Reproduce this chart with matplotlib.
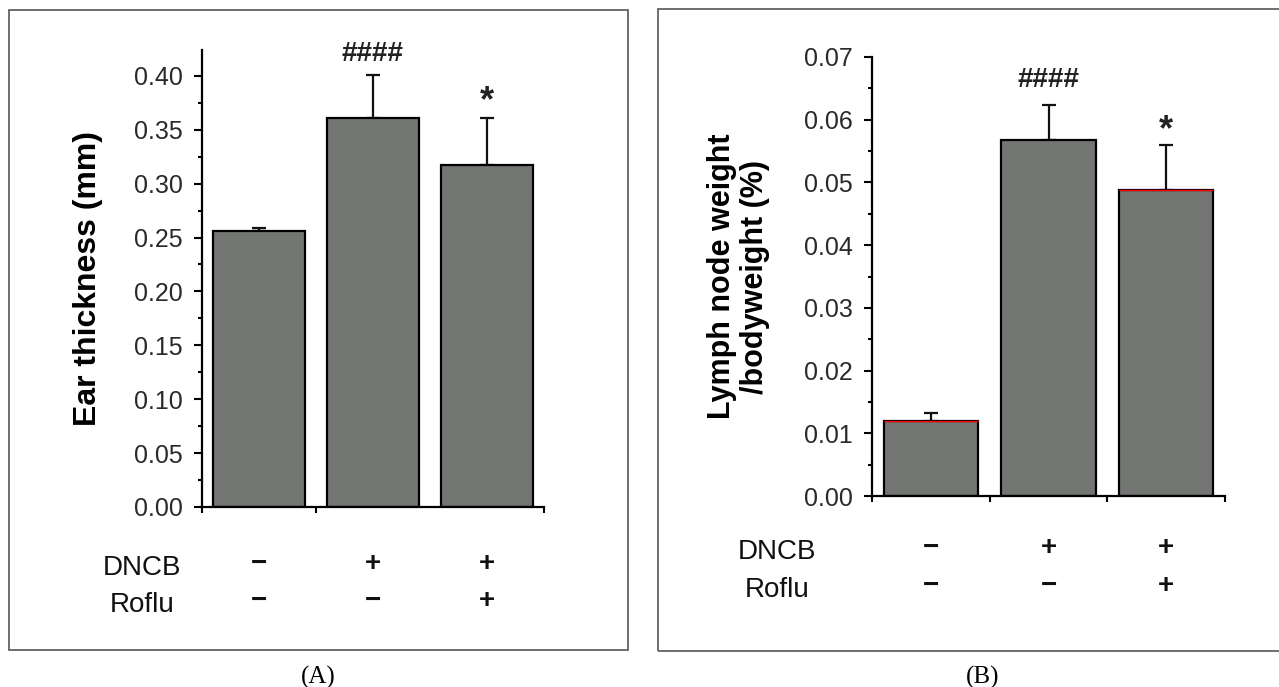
import numpy as np
import matplotlib
matplotlib.use('Agg')
import matplotlib.pyplot as plt
from matplotlib.patches import Rectangle
from matplotlib.ticker import MultipleLocator, FormatStrFormatter
from matplotlib.transforms import blended_transform_factory

plt.rcParams['font.family'] = ['Liberation Sans', 'DejaVu Sans']

# data
groups = [0, 1, 2]
ear_mean = [0.256, 0.361, 0.317]
ear_err = [0.003, 0.040, 0.044]
lymph_mean = [0.0119, 0.0567, 0.0488]
lymph_err = [0.0013, 0.0057, 0.0072]
dncb_signs = ['\u2212', '+', '+']
roflu_signs = ['\u2212', '\u2212', '+']
marks = ['', '####', '*']

W, H = 1279, 687
fig = plt.figure(figsize=(W / 100, H / 100), dpi=100)


def fx(px):
    return px / W


def fy(py):
    return 1 - py / H


# panel frames
fig.add_artist(Rectangle((fx(9), fy(650)), fx(619), (650 - 10) / H,
                         transform=fig.transFigure, fill=False, ec='#555555', lw=1.2))
fig.add_artist(Rectangle((fx(658), fy(651)), fx(640), (651 - 9) / H,
                         transform=fig.transFigure, fill=False, ec='#555555', lw=1.2))

bar_col = '#737573'


def draw_panel(ax, means, errs, ymax, major, minor, xticks, hash_gap, star_gap):
    ax.bar(groups, means, width=0.8, color=bar_col, edgecolor='black', linewidth=1.6, zorder=2)
    ax.errorbar(groups, means, yerr=[np.zeros(len(errs)), errs], fmt='none',
                ecolor='#111111', elinewidth=1.6, capsize=5, capthick=1.6, zorder=1)
    ax.set_xlim(-0.5, 2.5)
    ax.set_ylim(0, ymax)
    ax.spines['top'].set_visible(False)
    ax.spines['right'].set_visible(False)
    ax.spines['left'].set_linewidth(1.6)
    ax.spines['bottom'].set_linewidth(1.6)
    ax.yaxis.set_major_locator(MultipleLocator(major))
    ax.yaxis.set_minor_locator(MultipleLocator(minor))
    ax.yaxis.set_major_formatter(FormatStrFormatter('%.2f'))
    ax.tick_params(axis='y', which='major', direction='out', length=6, width=1.5,
                   labelsize=18, labelcolor='#2a2a2a', pad=8)
    ax.tick_params(axis='y', which='minor', direction='out', length=3, width=1.5)
    ax.set_xticks(xticks)
    ax.tick_params(axis='x', direction='out', length=4, width=1.5, labelbottom=False)
    for g, m, e, t in zip(groups, means, errs, marks):
        if t == '*':
            ax.annotate(t, (g, m + e), xytext=(0, star_gap), textcoords='offset points',
                        ha='center', va='center', fontsize=26, fontweight='bold', color='#222222')
        elif t:
            ax.annotate(t, (g, m + e), xytext=(0, hash_gap), textcoords='offset points',
                        ha='center', va='center', fontsize=20, fontweight='bold', color='#222222')


# panel A
axA = fig.add_axes([fx(202), fy(507), fx(342), (507 - 50) / H])
draw_panel(axA, ear_mean, ear_err, 0.424, 0.05, 0.025, [-0.5, 0.5, 2.5], 15, 12)
axA.set_ylabel('Ear thickness (mm)', fontsize=23, fontweight='bold', labelpad=22)

# panel B
axB = fig.add_axes([fx(872), fy(496), fx(353), (496 - 57) / H])
draw_panel(axB, lymph_mean, lymph_err, 0.07, 0.01, 0.005, [-0.5, 0.5, 1.5, 2.5], 18, 10)
axB.set_ylabel('Lymph node weight\n/bodyweight (%)', fontsize=22, fontweight='bold',
               labelpad=24, linespacing=1.15)
# thin red line on top of first and last bar
axB.hlines([lymph_mean[0], lymph_mean[2]], [g - 0.4 for g in (groups[0], groups[2])],
           [g + 0.4 for g in (groups[0], groups[2])], color='red', lw=1, zorder=3)

# treatment rows under the axes
for ax, lab_x, y1, y2 in [(axA, 142, 568, 605), (axB, 777, 552, 590)]:
    fig.text(fx(lab_x), fy(y1), 'DNCB', fontsize=20, ha='center', va='center', color='#111111')
    fig.text(fx(lab_x), fy(y2), 'Roflu', fontsize=20, ha='center', va='center', color='#111111')
    tr = blended_transform_factory(ax.transData, fig.transFigure)
    for g, s1, s2 in zip(groups, dncb_signs, roflu_signs):
        ax.text(g, fy(y1 - 4), s1, transform=tr, ha='center', va='center',
                fontsize=20, fontweight='bold', color='#111111')
        ax.text(g, fy(y2 - 4), s2, transform=tr, ha='center', va='center',
                fontsize=20, fontweight='bold', color='#111111')

# captions
fig.text(fx(318), fy(677), '(A)', fontsize=18, family='Liberation Serif', ha='center', va='center')
fig.text(fx(983), fy(677), '(B)', fontsize=18, family='Liberation Serif', ha='center', va='center')

fig.savefig('out.png', dpi=100)
